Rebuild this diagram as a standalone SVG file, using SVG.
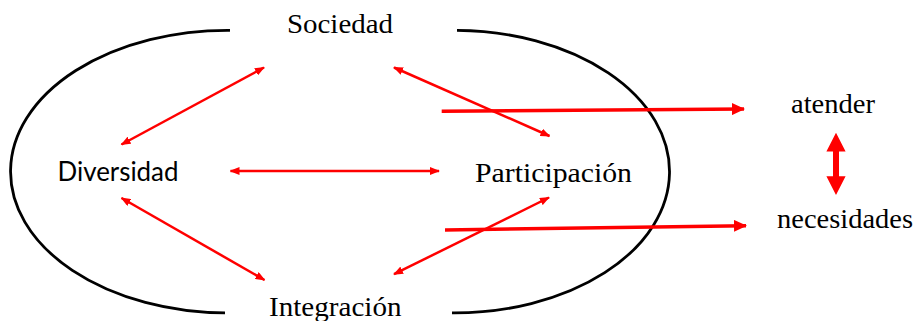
<svg xmlns="http://www.w3.org/2000/svg" width="917" height="321" viewBox="0 0 917 321">
<style>
  .serif { font-family: "Liberation Serif", "Times New Roman", serif; font-size: 28px; fill: #000; }
  .sans { font-family: Lato, "Liberation Sans", sans-serif; font-size: 26px; fill: #000; }
  .arc { fill: none; stroke: #000; stroke-width: 2.8; }
  .thin { fill: none; stroke: #ff0000; stroke-width: 2.5; marker-start: url(#ah); marker-end: url(#ah); }
  .thick { fill: none; stroke: #ff0000; stroke-width: 3.5; marker-end: url(#bh); }
</style>
<defs>
  <marker id="ah" viewBox="0 0 10 8" refX="9" refY="4" markerWidth="10" markerHeight="8" markerUnits="userSpaceOnUse" orient="auto-start-reverse">
    <path d="M0,0 L10,4 L0,8 z" fill="#ff0000"/>
  </marker>
  <marker id="bh" viewBox="0 0 13 12" refX="12" refY="6" markerWidth="13" markerHeight="12" markerUnits="userSpaceOnUse" orient="auto">
    <path d="M0,0 L13,6 L0,12 z" fill="#ff0000"/>
  </marker>
</defs>
<rect width="917" height="321" fill="#fff"/>
<g id="boundary">
  <path class="arc" d="M230,30.3 A217,141.3 0 0 0 225,312.9"/>
  <path class="arc" d="M457,30.3 A215,141.3 0 0 1 452,312.9"/>
</g>
<g id="connectors">
  <line class="thin" x1="264" y1="67.5" x2="121.5" y2="144.5"/>
  <line class="thin" x1="394" y1="67.5" x2="549.5" y2="136"/>
  <line class="thin" x1="230.5" y1="171" x2="439" y2="171"/>
  <line class="thin" x1="121.5" y1="198" x2="264.5" y2="280"/>
  <line class="thin" x1="394" y1="274.2" x2="549" y2="197.5"/>
  <line class="thick" x1="441.7" y1="111.3" x2="744" y2="109"/>
  <line class="thick" x1="445" y1="230" x2="746" y2="225.7"/>
  <polygon fill="#ff0000" points="836,132.7 845.6,151.6 839,151.6 839,176.2 845.6,176.2 836,195 826.4,176.2 833,176.2 833,151.6 826.4,151.6"/>
</g>
<g id="sociedad"><text class="serif" x="287" y="33" textLength="106" lengthAdjust="spacingAndGlyphs">Sociedad</text></g>
<g id="diversidad"><text class="sans" x="57.5" y="181" textLength="121" lengthAdjust="spacingAndGlyphs">Diversidad</text></g>
<g id="participacion"><text class="serif" x="475" y="181.7" textLength="157" lengthAdjust="spacingAndGlyphs">Participación</text></g>
<g id="integracion"><text class="serif" x="269" y="315.5" textLength="132.5" lengthAdjust="spacingAndGlyphs">Integración</text></g>
<g id="atender"><text class="serif" x="791" y="112.7" textLength="84" lengthAdjust="spacingAndGlyphs">atender</text></g>
<g id="necesidades"><text class="serif" x="777" y="228.3" textLength="136" lengthAdjust="spacingAndGlyphs">necesidades</text></g>
</svg>
